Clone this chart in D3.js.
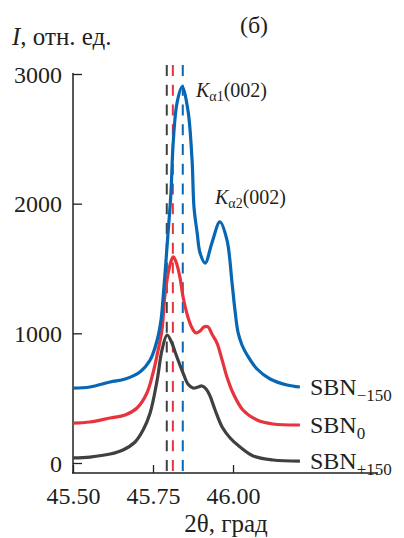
<!DOCTYPE html>
<html>
<head>
<meta charset="utf-8">
<script src="https://cdn.jsdelivr.net/npm/d3@7"></script>
<style>
  body { margin: 0; background: #fff; }
</style>
</head>
<body>
<main></main>
<script>
// data: 2theta (deg) and intensity (arb. units)
let black2theta = [45.500, 45.553, 45.616, 45.656, 45.694, 45.719, 45.741, 45.763, 45.778, 45.794, 45.809, 45.819, 45.834, 45.844, 45.859, 45.875, 45.891, 45.903, 45.916, 45.928, 45.944, 45.966, 45.991, 46.022, 46.063, 46.125, 46.209]
let blackI = [39, 46, 69, 100, 162, 254, 386, 640, 871, 987, 925, 856, 756, 694, 609, 578, 586, 594, 571, 517, 409, 278, 193, 123, 54, 23, 15]

let red2theta = [45.500, 45.553, 45.616, 45.663, 45.700, 45.731, 45.750, 45.766, 45.778, 45.788, 45.803, 45.813, 45.822, 45.834, 45.844, 45.859, 45.872, 45.884, 45.897, 45.909, 45.922, 45.934, 45.950, 45.966, 45.981, 46.000, 46.031, 46.075, 46.125, 46.209]
let redI = [308, 316, 347, 370, 424, 540, 694, 871, 1026, 1311, 1527, 1589, 1550, 1434, 1280, 1126, 1041, 1003, 1018, 1049, 1049, 995, 925, 794, 663, 540, 409, 332, 301, 293]

let blue2theta = [45.500, 45.553, 45.616, 45.663, 45.709, 45.741, 45.763, 45.775, 45.781, 45.797, 45.806, 45.813, 45.825, 45.841, 45.859, 45.872, 45.878, 45.888, 45.897, 45.913, 45.934, 45.959, 45.981, 45.997, 46.006, 46.016, 46.028, 46.044, 46.075, 46.116, 46.169, 46.209]
let blueI = [578, 586, 625, 648, 702, 794, 949, 1103, 1257, 1774, 2082, 2468, 2776, 2900, 2722, 2337, 1974, 1774, 1620, 1542, 1697, 1859, 1720, 1388, 1180, 1003, 910, 833, 725, 648, 602, 586]

let seriesSubs = ["+150", "0", "\u2212150"]
let seriesColors = ["#404040", "#e8333c", "#0767b4"]
let peakPositions = [45.793, 45.812, 45.843]

let xTicks = [45.50, 45.75, 46.00]
let yTicks = [0, 1000, 2000, 3000]

let series = [
    { sub: seriesSubs[0], color: seriesColors[0], xs: black2theta, ys: blackI },
    { sub: seriesSubs[1], color: seriesColors[1], xs: red2theta, ys: redI },
    { sub: seriesSubs[2], color: seriesColors[2], xs: blue2theta, ys: blueI }
]

let serif = "'Liberation Serif', 'Times New Roman', Tinos, 'DejaVu Serif', 'Noto Serif', serif"
let ink = "#231f20"

let svg = d3.select('main')
    .append('svg')
    .attr('width', 404)
    .attr('height', 538)
    .attr('font-family', serif)

let x = d3.scaleLinear().domain([45.5, 46.453]).range([73, 378])
let y = d3.scaleLinear().domain([0, 3000]).range([463, 74])
let axisY = 473

// axes
let yAxis = svg.append("g")
    .attr("transform", "translate(73,0)")
    .call(d3.axisLeft(y).tickValues(yTicks).tickSize(-9).tickPadding(11).tickFormat(d3.format("d")))
    .attr("font-family", serif)
yAxis.select(".domain").remove()
yAxis.selectAll("line").attr("stroke", ink).attr("stroke-width", 1.3)
yAxis.selectAll("text")
    .attr("font-size", 24)
    .attr("fill", ink)
    .attr("dy", "0.34em")

let xAxis = svg.append("g")
    .attr("transform", `translate(0,${axisY})`)
    .call(d3.axisBottom(x).tickValues(xTicks).tickSize(-8).tickPadding(14).tickFormat(d3.format(".2f")))
    .attr("font-family", serif)
xAxis.select(".domain").remove()
xAxis.selectAll("line").attr("stroke", ink).attr("stroke-width", 1.3)
xAxis.selectAll("text")
    .attr("font-size", 24)
    .attr("fill", ink)
    .attr("dy", "0.7em")

svg.append("line")
    .attr("x1", 73).attr("x2", 73)
    .attr("y1", y(3000) - 1).attr("y2", axisY)
    .attr("stroke", ink).attr("stroke-width", 1.5)
svg.append("line")
    .attr("x1", 72).attr("x2", 378)
    .attr("y1", axisY).attr("y2", axisY)
    .attr("stroke", ink).attr("stroke-width", 1.5)

// dashed peak positions
svg.selectAll("line.peak")
    .data(peakPositions)
    .enter()
    .append("line")
    .attr("class", "peak")
    .attr("x1", d => x(d)).attr("x2", d => x(d))
    .attr("y1", 65).attr("y2", 471)
    .attr("stroke", (d, i) => seriesColors[i])
    .attr("stroke-width", 2)
    .attr("stroke-dasharray", "11,8.75")

// curves
let line = d3.line()
    .x(d => x(d[0]))
    .y(d => y(d[1]))
    .curve(d3.curveCatmullRom.alpha(0.5))

svg.selectAll("path.curve")
    .data(series)
    .enter()
    .append("path")
    .attr("class", "curve")
    .attr("d", d => line(d.xs.map((v, i) => [v, d.ys[i]])))
    .attr("fill", "none")
    .attr("stroke", d => d.color)
    .attr("stroke-width", 3.2)
    .attr("stroke-linejoin", "round")

// series labels at line ends
let labels = svg.selectAll("text.series")
    .data(series)
    .enter()
    .append("text")
    .attr("class", "series")
    .attr("x", 310)
    .attr("y", d => y(d.ys[d.ys.length - 1]) + 8)
    .attr("font-size", 24)
    .attr("fill", ink)
labels.append("tspan").text("SBN")
labels.append("tspan")
    .attr("dy", 6)
    .attr("font-size", 17)
    .text(d => d.sub)

// peak annotations
function peakLabel(px, py, sub) {
    let t = svg.append("text")
        .attr("x", px).attr("y", py)
        .attr("font-size", 20)
        .attr("fill", ink)
    t.append("tspan").attr("font-style", "italic").text("K")
    t.append("tspan").attr("dy", 4).attr("font-size", 14).text(sub)
    t.append("tspan").attr("dy", -4).text("(002)")
}
peakLabel(196, 97, "\u03b11")
peakLabel(215, 204, "\u03b12")

// titles
let yTitle = svg.append("text")
    .attr("x", 12).attr("y", 45)
    .attr("font-size", 25)
    .attr("fill", ink)
yTitle.append("tspan").attr("font-style", "italic").text("I")
yTitle.append("tspan").text(", отн. ед.")

svg.append("text")
    .attr("x", 254).attr("y", 33)
    .attr("text-anchor", "middle")
    .attr("font-size", 24)
    .attr("fill", ink)
    .text("(б)")

svg.append("text")
    .attr("x", 226).attr("y", 532)
    .attr("text-anchor", "middle")
    .attr("font-size", 25)
    .attr("fill", ink)
    .text("2θ, град")
</script>
</body>
</html>
